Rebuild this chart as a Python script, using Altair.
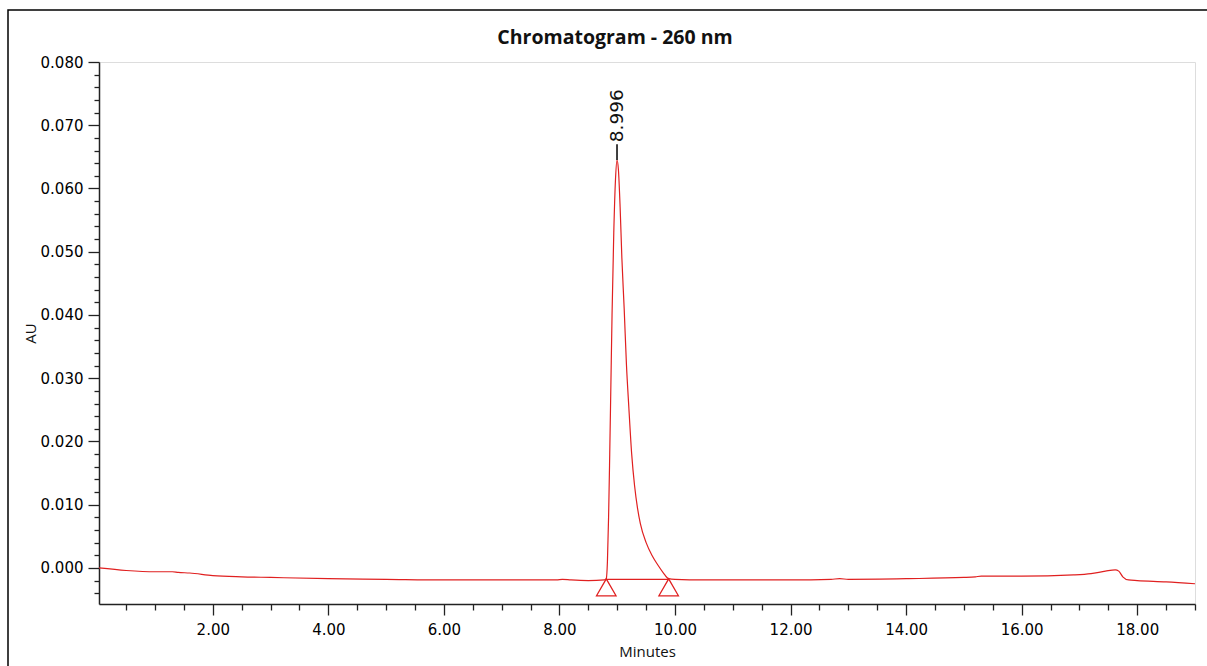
import altair as alt
import pandas as pd

# ---- data ----
times = [0.03, 0.5, 1.0, 1.2, 1.3, 1.4, 1.6, 2.0, 2.5, 3.0, 4.0, 5.0, 6.0, 7.0, 7.95, 8.05,
         8.2, 8.5, 8.78, 8.81, 8.83, 8.85, 8.87, 8.89, 8.91, 8.94, 8.97, 8.996, 9.02, 9.05,
         9.08, 9.12, 9.16, 9.20, 9.25, 9.30, 9.35, 9.40, 9.50, 9.60, 9.70, 9.80, 9.89, 10.0,
         10.5, 11.0, 12.0, 12.7, 12.85, 13.0, 14.0, 15.0, 15.2, 15.3, 16.0, 16.9, 17.2, 17.45,
         17.62, 17.68, 17.75, 17.85, 18.0, 18.5, 19.0]
au = [0.0000, -0.0004, -0.0006, -0.0006, -0.0006, -0.0007, -0.0008, -0.0012, -0.0014, -0.0015,
      -0.0017, -0.0018, -0.0019, -0.0019, -0.0019, -0.0018, -0.0019, -0.0020, -0.0019, -0.0017,
      0.0010, 0.0080, 0.0180, 0.0290, 0.0400, 0.0530, 0.0615, 0.0645, 0.0630, 0.0570,
      0.0490, 0.0410, 0.0320, 0.0255, 0.0180, 0.0130, 0.0095, 0.0070, 0.0040, 0.0020,
      0.0005, -0.0008, -0.0017, -0.0018, -0.0019, -0.0019, -0.0019, -0.0018, -0.0017, -0.0018,
      -0.0017, -0.0015, -0.0014, -0.0013, -0.0013, -0.0011, -0.0009, -0.0005, -0.0003, -0.0005,
      -0.0014, -0.0019, -0.0020, -0.0022, -0.0025]

marker_t = [8.81, 9.89]
marker_au = [-0.0018, -0.0018]

peak_t = [8.996]
peak_au = [0.0645]
peak_label = ["8.996"]
label_au = [0.0670]

chart_title = "Chromatogram - 260 nm"

x_ticks = [round(0.5 * i, 2) for i in range(1, 39)]
y_ticks = [round(-0.004 + 0.002 * i, 3) for i in range(43)]

RED = "#e02020"
LABEL_FONT = "DejaVu Sans"
TITLE_FONT = "Open Sans"

df = pd.DataFrame({"t": times, "au": au})
mk = pd.DataFrame({"t": marker_t, "au": marker_au})
pk = pd.DataFrame({"t": peak_t, "au": peak_au, "top": label_au, "label": peak_label})

xscale = alt.Scale(domain=[0.03, 19.0], nice=False, zero=False)
yscale = alt.Scale(domain=[-0.0057, 0.080], nice=False, zero=False)

xaxis = alt.Axis(
    values=x_ticks, tickCount=200,
    labelExpr="round(datum.value*2) % 4 == 0 ? format(datum.value, '.2f') : ''",
    tickSize={"condition": {"test": "round(datum.value*2) % 4 == 0", "value": 11}, "value": 6},
    labelPadding=7, labelOverlap=False, labelFlush=False, labelBound=False,
    labelFont=LABEL_FONT, labelFontSize=15, labelColor="#000000",
    tickColor="#222222", domainColor="#222222", domainWidth=1.5, tickWidth=1.3,
    grid=False, title="Minutes", titleFont=TITLE_FONT, titleFontSize=15,
    titleFontWeight="normal", titleColor="#111111",
    titleX=548, titleY=52, titleBaseline="alphabetic", titleAnchor="middle",
)
yaxis = alt.Axis(
    values=y_ticks, tickCount=200,
    labelExpr="abs(round(datum.value*1000)) % 10 == 0 ? format(datum.value, '.3f') : ''",
    tickSize={"condition": {"test": "abs(round(datum.value*1000)) % 10 == 0", "value": 11}, "value": 5},
    labelPadding=5, labelOverlap=False, labelFlush=False, labelBound=False,
    labelFont=LABEL_FONT, labelFontSize=15, labelColor="#000000",
    tickColor="#222222", domainColor="#222222", domainWidth=1.5, tickWidth=1.3,
    grid=False, title="AU", titleFont=TITLE_FONT, titleFontSize=15,
    titleFontWeight="normal", titleColor="#111111",
    titleX=-69, titleY=271, titleAngle=270, titleBaseline="middle", titleAnchor="middle",
)

frame = alt.Chart(alt.Data(values=[{}])).mark_rect(
    filled=False, stroke="black", strokeWidth=1.5
).encode(
    x=alt.value(-91), x2=alt.value(1140), y=alt.value(-52), y2=alt.value(640)
)

title = alt.Chart(alt.Data(values=[{"txt": chart_title}])).mark_text(
    font=TITLE_FONT, fontSize=19.5, fontWeight="bold", color="#111111",
    align="center", baseline="alphabetic"
).encode(x=alt.value(516), y=alt.value(-18), text="txt:N")

trace = alt.Chart(df).mark_line(color=RED, strokeWidth=1.2, interpolate="monotone").encode(
    x=alt.X("t:Q", scale=xscale, axis=xaxis),
    y=alt.Y("au:Q", scale=yscale, axis=yaxis),
)

base_line = alt.Chart(mk).mark_line(color=RED, strokeWidth=1.1).encode(
    x=alt.X("t:Q", scale=xscale), y=alt.Y("au:Q", scale=yscale)
)

markers = alt.Chart(mk).mark_point(
    shape="triangle-up", size=380, filled=False, color=RED, strokeWidth=1.3, yOffset=8, opacity=1
).encode(x=alt.X("t:Q", scale=xscale), y=alt.Y("au:Q", scale=yscale))

tick_line = alt.Chart(pk).mark_rule(color="black", strokeWidth=1.5).encode(
    x=alt.X("t:Q", scale=xscale), y=alt.Y("au:Q", scale=yscale), y2="top:Q"
)

label = alt.Chart(pk).mark_text(
    angle=270, align="left", baseline="middle", dx=2, font=LABEL_FONT, fontSize=18.5, color="#111111"
).encode(x=alt.X("t:Q", scale=xscale), y=alt.Y("top:Q", scale=yscale), text="label:N")

chart = alt.layer(frame, title, trace, base_line, markers, tick_line, label).properties(
    width=1096, height=542,
    autosize=alt.AutoSizeParams(type="none"),
    padding={"left": 99, "top": 62, "right": 12, "bottom": 62},
).configure_view(stroke="#6a6a6a", strokeWidth=1.5).configure(background="white")

chart.save("out.html", embed_options={"renderer": "svg", "actions": False})
